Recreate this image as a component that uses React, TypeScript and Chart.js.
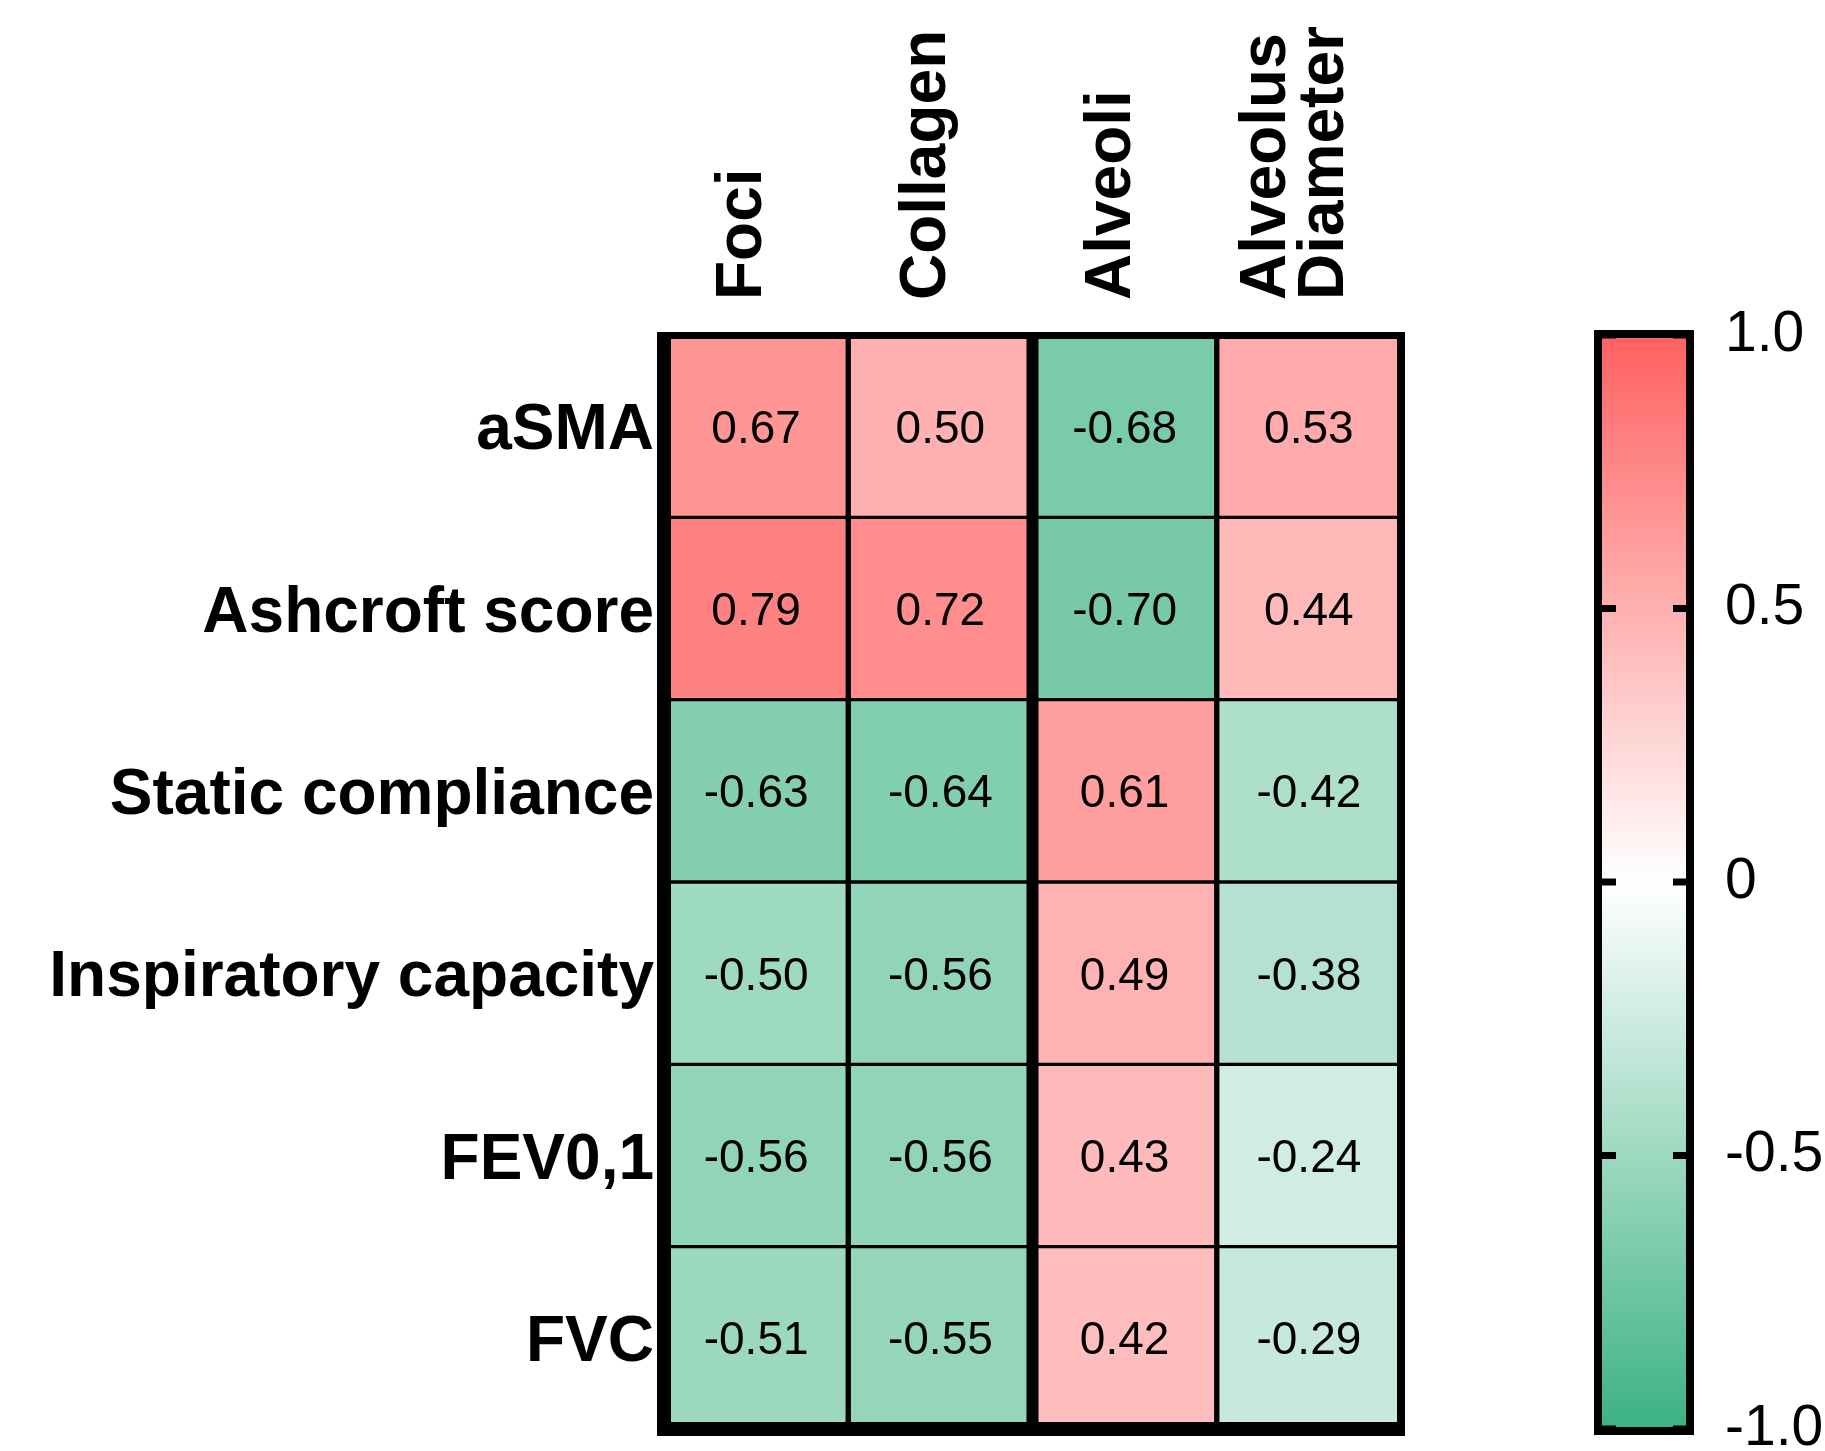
import React, { useEffect, useRef } from 'react';
import { Chart, registerables } from 'chart.js';

Chart.register(...registerables);

// ---- Data ----
const columnLabels = ['Foci', 'Collagen', 'Alveoli', 'Alveolus\nDiameter'];
const rowLabels = ['aSMA', 'Ashcroft score', 'Static compliance', 'Inspiratory capacity', 'FEV0,1', 'FVC'];

const foci = [0.67, 0.79, -0.63, -0.5, -0.56, -0.51];
const collagen = [0.5, 0.72, -0.64, -0.56, -0.56, -0.55];
const alveoli = [-0.68, -0.7, 0.61, 0.49, 0.43, 0.42];
const alveolusDiameter = [0.53, 0.44, -0.42, -0.38, -0.24, -0.29];

const colorbarTicks = [1, 0.5, 0, -0.5, -1];
const colorbarTickLabels = ['1.0', '0.5', '0', '-0.5', '-1.0'];

const series = [foci, collagen, alveoli, alveolusDiameter];

const RED = [255, 97, 97];
const GREEN = [60, 178, 131];
const FONT = '"Liberation Sans", Arial, Helvetica, sans-serif';

function colorFor(v: number): string {
  const end = v >= 0 ? RED : GREEN;
  const t = Math.min(1, Math.abs(v));
  const c = end.map((e) => Math.round(255 + (e - 255) * t));
  return `rgb(${c[0]},${c[1]},${c[2]})`;
}

const heatPlugin = {
  id: 'heatDecor',
  afterDatasetsDraw(chart: any) {
    const { ctx, chartArea: a, scales } = chart;
    const xs = scales.x;
    const ys = scales.y;
    ctx.save();
    ctx.fillStyle = '#000';

    // cell values
    ctx.font = `46px ${FONT}`;
    ctx.textAlign = 'center';
    ctx.textBaseline = 'alphabetic';
    chart.data.datasets.forEach((ds: any, di: number) => {
      const meta = chart.getDatasetMeta(di);
      meta.data.forEach((bar: any, ci: number) => {
        const p = bar.getProps(['x', 'y', 'base'], true);
        const cy = (p.y + p.base) / 2;
        ctx.fillText(ds.values[ci].toFixed(2), p.x, cy + 16.5);
      });
    });

    // thick separator between column 2 and 3
    const sx = (xs.getPixelForValue(1) + xs.getPixelForValue(2)) / 2;
    ctx.fillRect(sx - 6, a.top, 12, a.bottom - a.top);

    // outer frame
    ctx.fillRect(a.left - 7, a.top - 3, 14, a.bottom - a.top + 10);
    ctx.fillRect(a.left - 7, a.top - 3, a.right - a.left + 11, 7);
    ctx.fillRect(a.right - 4, a.top - 3, 8, a.bottom - a.top + 10);
    ctx.fillRect(a.left - 7, a.bottom - 7, a.right - a.left + 11, 14);

    // row labels
    ctx.font = `bold 64px ${FONT}`;
    ctx.textAlign = 'right';
    rowLabels.forEach((r, i) => {
      ctx.fillText(r, a.left - 10, ys.getPixelForValue(i + 0.5) + 23);
    });

    // column labels (rotated)
    ctx.textAlign = 'left';
    columnLabels.forEach((c, i) => {
      const lines = c.split('\n');
      const tx = xs.getPixelForValue(i);
      lines.forEach((ln, li) => {
        const px = tx + 5 + (li - (lines.length - 1) / 2) * 58;
        ctx.save();
        ctx.translate(px, a.top - 35);
        ctx.rotate(-Math.PI / 2);
        ctx.fillText(ln, 0, 0);
        ctx.restore();
      });
    });
    ctx.restore();
  },
  afterDraw(chart: any) {
    const { ctx } = chart;
    const yc = chart.scales.yColor;
    const top = yc.getPixelForValue(1);
    const bot = yc.getPixelForValue(-1);
    const L = yc.left + 201;
    const R = yc.left + 286;
    ctx.save();
    const g = ctx.createLinearGradient(0, top, 0, bot);
    g.addColorStop(0, colorFor(1));
    g.addColorStop(0.5, colorFor(0));
    g.addColorStop(1, colorFor(-1));
    ctx.fillStyle = g;
    ctx.fillRect(L, top, R - L, bot - top);
    ctx.strokeStyle = '#000';
    ctx.lineWidth = 8;
    ctx.strokeRect(L - 4, top - 1, R - L + 7, bot - top + 3);
    ctx.fillStyle = '#000';
    colorbarTicks.forEach((v) => {
      const py = yc.getPixelForValue(v);
      ctx.fillRect(L, py - 3.5, 14, 7);
      ctx.fillRect(R - 14, py - 3.5, 14, 7);
    });
    ctx.restore();
  },
};

export default function App() {
  const ref = useRef<HTMLCanvasElement | null>(null);

  useEffect(() => {
    if (!ref.current) return;
    const datasets = rowLabels.map((r, ri) => ({
      label: r,
      data: columnLabels.map(() => 1),
      values: series.map((s) => s[ri]),
      backgroundColor: series.map((s) => colorFor(s[ri])),
      borderColor: '#000',
      borderWidth: { left: 3, right: 3, top: 2, bottom: 2 },
      borderSkipped: false,
      barPercentage: 1,
      categoryPercentage: 1,
      stack: 'grid',
      xAxisID: 'x',
      yAxisID: 'y',
    }));

    const chart = new Chart(ref.current, {
      type: 'bar',
      data: { labels: columnLabels, datasets: datasets as any },
      options: {
        responsive: false,
        animation: false,
        devicePixelRatio: 1,
        layout: { padding: { left: 664, top: 335, bottom: 22, right: 0 } },
        plugins: { legend: { display: false }, tooltip: { enabled: false }, title: { display: false } },
        scales: {
          x: { type: 'category', display: false, stacked: true, offset: true },
          y: { type: 'linear', display: false, stacked: true, min: 0, max: 6, reverse: true },
          yColor: {
            type: 'linear',
            position: 'right',
            min: -1,
            max: 1,
            grid: { display: false, drawTicks: false },
            border: { display: false },
            afterBuildTicks: (s: any) => {
              s.ticks = colorbarTicks.map((v) => ({ value: v }));
            },
            afterFit: (s: any) => {
              s.width = 424;
              s.paddingTop = 0;
              s.paddingBottom = 0;
            },
            ticks: {
              padding: 324,
              color: '#000',
              font: { family: FONT, size: 57, weight: 'normal' },
              autoSkip: false,
              callback: (_v: any, i: number) => colorbarTickLabels[i],
            },
          },
        } as any,
      },
      plugins: [heatPlugin],
    });
    return () => chart.destroy();
  }, []);

  return (
    <div style={{ position: 'absolute', left: 0, top: 0, width: 1825, height: 1451, background: '#fff' }}>
      <canvas ref={ref} width={1825} height={1451} style={{ display: 'block' }} />
    </div>
  );
}
